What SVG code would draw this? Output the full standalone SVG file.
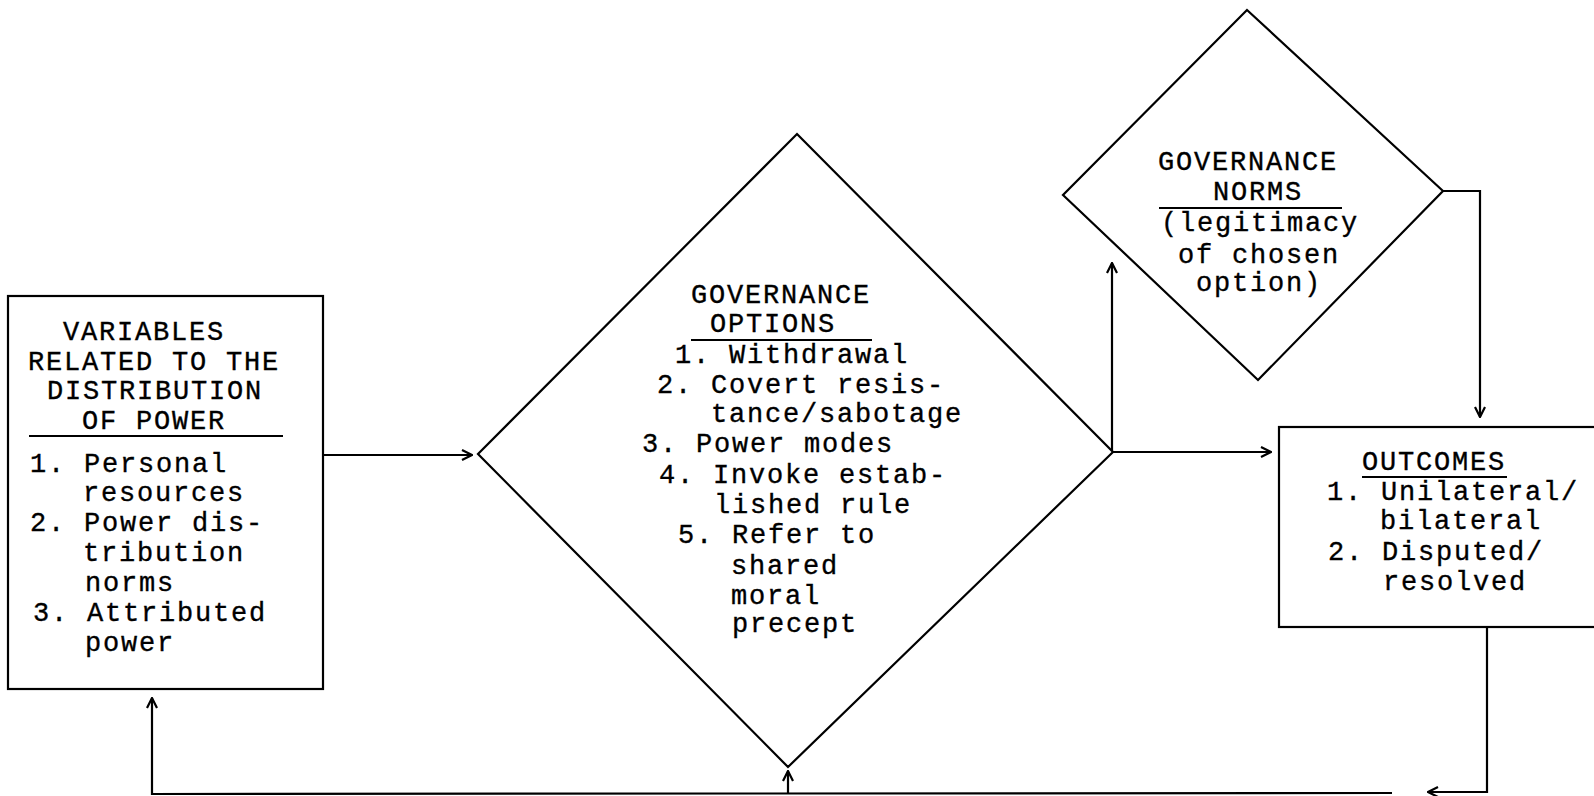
<svg xmlns="http://www.w3.org/2000/svg" width="1594" height="796" viewBox="0 0 1594 796">
<defs>
<style>
.s{fill:none;stroke:#000;stroke-width:2.2;stroke-linejoin:miter}
.n{fill:#fff;stroke:#000;stroke-width:2.2}
.u{stroke:#000;stroke-width:2}
text{font-family:"Liberation Mono","DejaVu Sans Mono",monospace;font-size:27px;letter-spacing:1.8px;fill:#000;stroke:#000;stroke-width:0.35}
</style>
<marker id="ah" viewBox="0 0 12 12" refX="11" refY="6" markerWidth="12" markerHeight="12" markerUnits="userSpaceOnUse" orient="auto">
<path d="M1,1 L11,6 L1,11" fill="none" stroke="#000" stroke-width="2.2"/>
</marker>
</defs>
<rect width="1594" height="796" fill="#fff"/>
<g id="connectors">
<path class="s" d="M323,455 L472,455" marker-end="url(#ah)"/>
<path class="s" d="M1113,452 L1271,452" marker-end="url(#ah)"/>
<path class="s" d="M1112,452 L1112,263" marker-end="url(#ah)"/>
<path class="s" d="M1443,191 L1480,191 L1480,417" marker-end="url(#ah)"/>
<path class="s" d="M1487,627 L1487,792 L1428,792" marker-end="url(#ah)"/>
<path class="s" d="M1392,793 L152,794 L152,698" marker-end="url(#ah)"/>
<path class="s" d="M788,793 L788,771" marker-end="url(#ah)"/>
</g>
<g id="variables">
<rect class="n" x="8" y="296" width="315" height="393"/>
<text x="63" y="340">VARIABLES</text>
<text x="28" y="370">RELATED TO THE</text>
<text x="47" y="399">DISTRIBUTION</text>
<text x="82" y="429">OF POWER</text>
<line class="u" x1="29" y1="436" x2="283" y2="436"/>
<text x="30" y="472">1. Personal</text>
<text x="83" y="501">resources</text>
<text x="30" y="531">2. Power dis-</text>
<text x="83" y="561">tribution</text>
<text x="85" y="591">norms</text>
<text x="33" y="621">3. Attributed</text>
<text x="85" y="651">power</text>
</g>
<g id="options">
<polygon class="n" points="797,134 1113,452 788,767 478,454"/>
<text x="691" y="303">GOVERNANCE</text>
<text x="710" y="332">OPTIONS</text>
<line class="u" x1="691" y1="340" x2="872" y2="340"/>
<text x="675" y="363">1. Withdrawal</text>
<text x="657" y="393">2. Covert resis-</text>
<text x="711" y="422">tance/sabotage</text>
<text x="642" y="452">3. Power modes</text>
<text x="659" y="483">4. Invoke estab-</text>
<text x="714" y="513">lished rule</text>
<text x="678" y="543">5. Refer to</text>
<text x="731" y="574">shared</text>
<text x="731" y="604">moral</text>
<text x="732" y="632">precept</text>
</g>
<g id="norms">
<polygon class="n" points="1247,10 1443,191 1258,380 1063,195"/>
<text x="1158" y="170">GOVERNANCE</text>
<text x="1213" y="200">NORMS</text>
<line class="u" x1="1159" y1="208" x2="1342" y2="208"/>
<text x="1161" y="231">(legitimacy</text>
<text x="1178" y="263">of chosen</text>
<text x="1196" y="291">option)</text>
</g>
<g id="outcomes">
<rect class="n" x="1279" y="427" width="330" height="200"/>
<text x="1362" y="470">OUTCOMES</text>
<line class="u" x1="1362" y1="477" x2="1507" y2="477"/>
<text x="1327" y="500">1. Unilateral/</text>
<text x="1380" y="529">bilateral</text>
<text x="1328" y="560">2. Disputed/</text>
<text x="1383" y="590">resolved</text>
</g>
</svg>
